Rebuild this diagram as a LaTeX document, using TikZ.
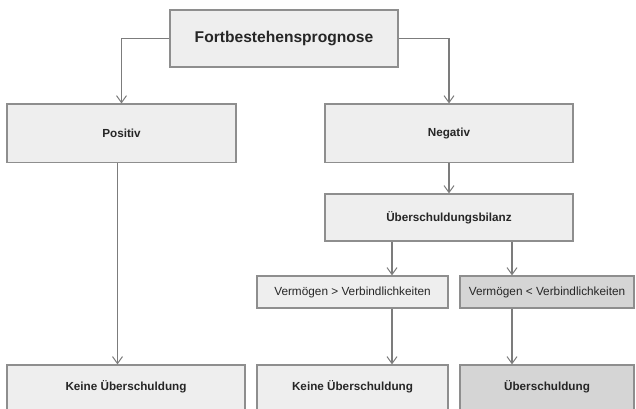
\documentclass[tikz,border=0pt]{standalone}
\usepackage{fontspec}
\setmainfont{Liberation Sans}
\usetikzlibrary{arrows.meta,positioning}
\definecolor{boxfill}{HTML}{EEEEEE}
\definecolor{darkfill}{HTML}{D5D5D5}
\definecolor{boxline}{HTML}{8E8E8E}
\definecolor{conline}{HTML}{7C7C7C}
\definecolor{txt}{HTML}{262626}
\begin{document}
\begin{tikzpicture}[x=1pt,y=-1pt,
  box/.style={draw=boxline,line width=1.2pt,fill=boxfill,text=txt,inner sep=0pt,font=\fontsize{11.8}{14}\selectfont},
  dbox/.style={box,fill=darkfill},
  conn/.style={draw=conline,line width=1.1pt,-{Straight Barb[length=7pt,width=10pt,line width=1pt]}}]
\useasboundingbox (0,0) rectangle (636,408);
\clip (0,0) rectangle (636,408);
\node[box,minimum width=228pt,minimum height=57pt,font=\fontsize{15.6}{18}\selectfont\bfseries] (top) at (284,38.5) {Fortbestehensprognose};
\node[box,minimum width=229pt,minimum height=58.5pt,font=\fontsize{11.7}{14}\selectfont\bfseries] (pos) at (121.5,133.3) {Positiv};
\node[box,minimum width=248pt,minimum height=58.5pt,font=\fontsize{11.7}{14}\selectfont\bfseries] (neg) at (449,133.3) {Negativ};
\node[box,minimum width=248pt,minimum height=47pt,font=\fontsize{11.7}{14}\selectfont\bfseries] (ueb) at (449,217.5) {Überschuldungsbilanz};
\node[box,minimum width=191pt,minimum height=32pt] (vg) at (352.5,292) {Vermögen > Verbindlichkeiten};
\node[dbox,minimum width=174pt,minimum height=32pt] (vl) at (547,292) {Vermögen < Verbindlichkeiten};
\node[box,minimum width=238pt,minimum height=60pt,font=\fontsize{11.7}{14}\selectfont\bfseries,text depth=0pt] (k1) at (126,395) {};
\node[box,minimum width=191pt,minimum height=60pt] (k2) at (352.5,395) {};
\node[dbox,minimum width=174pt,minimum height=60pt] (ue) at (547,395) {};
\node[text=txt,font=\fontsize{11.7}{14}\selectfont\bfseries] (t1) at (126,387) {Keine Überschuldung};
\node[text=txt,font=\fontsize{11.7}{14}\selectfont\bfseries] (t2) at (352.5,387) {Keine Überschuldung};
\node[text=txt,font=\fontsize{11.7}{14}\selectfont\bfseries] (t3) at (547,387) {Überschuldung};
\coordinate (cl) at (117.5,0);
\coordinate (ca) at (392,0);
\coordinate (cb) at (512,0);
\draw[conn] (top.west) -| (pos.north);
\draw[conn] (top.east) -| (neg.north);
\draw[conn] (pos.south -| cl) -- (k1.north -| cl);
\draw[conn] (neg.south) -- (ueb.north);
\draw[conn] (ueb.south -| ca) -- (vg.north -| ca);
\draw[conn] (ueb.south -| cb) -- (vl.north -| cb);
\draw[conn] (vg.south -| ca) -- (k2.north -| ca);
\draw[conn] (vl.south -| cb) -- (ue.north -| cb);
\end{tikzpicture}
\end{document}
